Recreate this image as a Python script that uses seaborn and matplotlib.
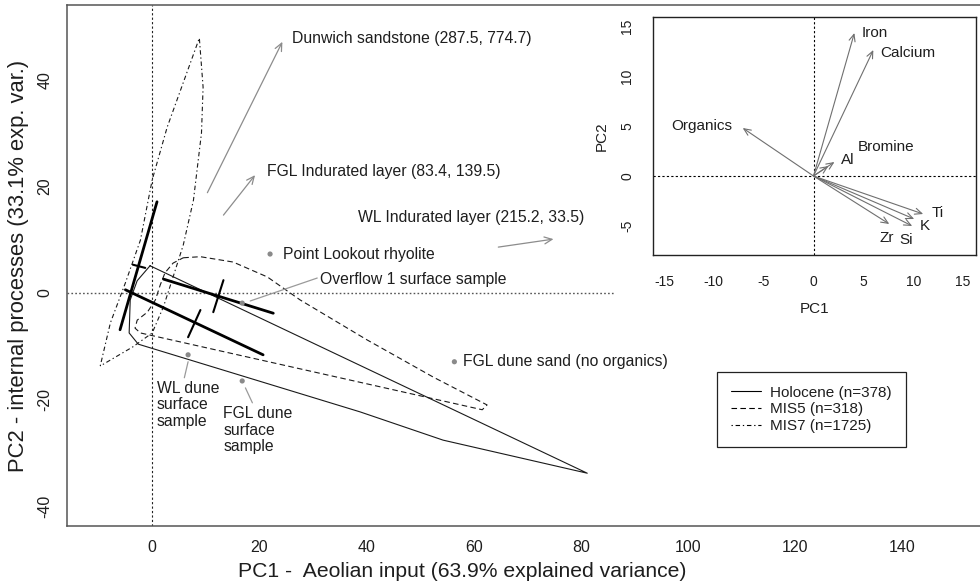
import numpy as np
import pandas as pd
import matplotlib
matplotlib.use("Agg")
import matplotlib.pyplot as plt
from matplotlib.lines import Line2D
import seaborn as sns

# ---------------- data ----------------
# convex hulls of the three groups (PC1, PC2)
holocene_pc1 = [-0.4, -2.8, -4.1, -4.3, -2.6, 38.8, 54.3, 81.2]
holocene_pc2 = [5.1, 2.3, -1.3, -7.5, -9.6, -22.3, -27.6, -33.8]

mis5_pc1 = [5.8, 9.0, 15.1, 21.5, 27.6, 40.1, 52.5, 62.5, 61.6,
            -2.2, -3.2, -2.8, -0.9, 0.6, 1.5, 2.4, 3.9]
mis5_pc2 = [6.6, 6.8, 5.8, 3.0, -1.3, -8.8, -15.8, -21.0, -21.9,
            -7.5, -6.6, -5.1, -3.6, -1.3, 1.5, 3.8, 5.6]

mis7_pc1 = [-9.7, -7.8, -5.0, -2.2, 0.0, 2.8, 8.8, 9.5, 9.2, 7.7,
            5.8, 3.9, 2.1, 0.0, -3.6]
mis7_pc2 = [-13.7, -5.6, 1.9, 9.9, 21.2, 31.1, 47.8, 38.6, 30.0, 17.4,
            9.0, 3.0, -2.6, -7.5, -10.1]

# group principal axes (major / minor), start and end points
axis_groups = ["MIS7", "Holocene", "MIS5"]
major_pc1 = [(0.9, -6.0), (-5.0, 20.7), (2.1, 22.6)]
major_pc2 = [(17.1, -6.9), (0.6, -11.6), (2.6, -3.8)]
minor_pc1 = [(-3.6, -1.3), (9.0, 6.7), (13.3, 11.4)]
minor_pc2 = [(5.3, 4.7), (-3.2, -8.3), (2.4, -3.6)]

# reference samples
sample_names = ["Point Lookout rhyolite", "Overflow 1 surface sample",
                "WL dune\nsurface\nsample", "FGL dune\nsurface\nsample",
                "FGL dune sand (no organics)"]
sample_pc1 = [22.0, 16.8, 6.7, 16.8, 56.4]
sample_pc2 = [7.3, -1.9, -11.6, -16.5, -12.9]
sample_label_pc1 = [24.4, 31.4, 0.9, 13.3, 58.0]
sample_label_pc2 = [7.3, 2.6, -21.0, -25.7, -12.9]
leader_from = {1: (18.3, -1.5), 2: (6.7, -12.9), 3: (17.4, -17.8)}
leader_to = {1: (30.8, 2.8), 2: (6.0, -15.9), 3: (18.7, -20.6)}

# off-scale samples (arrows pointing towards them)
offscale_names = ["Dunwich sandstone (287.5, 774.7)",
                  "FGL Indurated layer (83.4, 139.5)",
                  "WL Indurated layer (215.2, 33.5)"]
offscale_arrow_start = [(10.3, 18.8), (13.3, 14.6), (64.6, 8.6)]
offscale_arrow_end = [(24.3, 47.1), (19.2, 22.1), (74.9, 10.1)]
offscale_label_pos = [(26.1, 47.8), (21.5, 22.7), (38.5, 14.1)]

# loadings (inset)
loading_names = ["Iron", "Calcium", "Organics", "Bromine", "Al",
                 "Ti", "K", "Si", "Zr"]
loading_pc1 = [4.1, 6.0, -7.1, 2.1, 1.5, 11.0, 10.1, 9.9, 7.6]
loading_pc2 = [14.3, 12.6, 4.8, 1.4, 1.0, -3.8, -4.3, -5.0, -4.8]
loading_label_pc1 = [6.1, 9.5, -11.2, 7.3, 3.4, 12.5, 11.2, 9.3, 7.3]
loading_label_pc2 = [14.3, 12.3, 5.0, 2.9, 1.6, -3.7, -5.0, -6.4, -6.2]

main_xticks = [0, 20, 40, 60, 80, 100, 120, 140]
main_yticks = [-40, -20, 0, 20, 40]
inset_xticks = [-15, -10, -5, 0, 5, 10, 15]
inset_yticks = [-5, 0, 5, 10, 15]

legend_labels = ["Holocene (n=378)", "MIS5 (n=318)", "MIS7 (n=1725)"]

# ---------------- style ----------------
sns.set_style("white")
plt.rcParams["font.family"] = ["Liberation Sans", "DejaVu Sans"]
plt.rcParams["axes.unicode_minus"] = False
TXT = "#1e1e1e"
GREY = "#8a8a8a"
LS = {"Holocene": "-", "MIS5": (0, (5, 3)), "MIS7": (0, (1.2, 2.5, 4, 2.5))}

fig = plt.figure(figsize=(9.8, 5.87), dpi=100)
ax = fig.add_axes([67 / 980, 61 / 587, 913 / 980, 521 / 587])
ax.set_xlim(-15.9, 154.5)
ax.set_ylim(-43.7, 54.0)

# reference lines
ax.axvline(0, color="#222222", lw=0.8, ls=(0, (2, 2)), zorder=1)
sns.lineplot(x=[-15.9, 86.4], y=[0, 0], ax=ax, color="#555555", lw=1.0,
             linestyle=(0, (1.2, 1.6)), sort=False, estimator=None)

# hulls
for name, xs, ys in [("Holocene", holocene_pc1, holocene_pc2),
                     ("MIS5", mis5_pc1, mis5_pc2),
                     ("MIS7", mis7_pc1, mis7_pc2)]:
    xs_c = list(xs) + [xs[0]]
    ys_c = list(ys) + [ys[0]]
    sns.lineplot(x=xs_c, y=ys_c, ax=ax, color="#1a1a1a", lw=0.8,
                 linestyle=LS[name], sort=False, estimator=None)

# group principal axes
for i in range(len(axis_groups)):
    sns.lineplot(x=list(major_pc1[i]), y=list(major_pc2[i]), ax=ax,
                 color="black", lw=2.0, sort=False, estimator=None)
    sns.lineplot(x=list(minor_pc1[i]), y=list(minor_pc2[i]), ax=ax,
                 color="black", lw=1.5, sort=False, estimator=None)

# sample points
pts = pd.DataFrame({"pc1": sample_pc1, "pc2": sample_pc2})
sns.scatterplot(data=pts, x="pc1", y="pc2", ax=ax, color=GREY, s=14,
                edgecolor="none", zorder=5)
for i, name in enumerate(sample_names):
    ax.text(sample_label_pc1[i], sample_label_pc2[i], name, ha="left",
            va="center", fontsize=11.3, color=TXT, linespacing=1.15)
for k in leader_from:
    (x0, y0), (x1, y1) = leader_from[k], leader_to[k]
    ax.plot([x0, x1], [y0, y1], color="#9a9a9a", lw=0.9)

# off-scale arrows
for name, st, en, lp in zip(offscale_names, offscale_arrow_start,
                            offscale_arrow_end, offscale_label_pos):
    ax.annotate("", xy=en, xytext=st,
                arrowprops=dict(arrowstyle="->,head_length=0.55,head_width=0.25",
                                color="#8c8c8c", lw=0.9, shrinkA=0, shrinkB=0,
                                mutation_scale=10))
    ax.text(lp[0], lp[1], name, ha="left", va="center", fontsize=11.3,
            color=TXT)

# axes styling
ax.set_xticks(main_xticks)
ax.set_yticks(main_yticks)
for s in ["left", "bottom", "top"]:
    ax.spines[s].set_color("#555555")
    ax.spines[s].set_linewidth(1.1)
ax.spines["right"].set_visible(False)
ax.tick_params(axis="both", direction="out", length=7, width=1.0,
               color="#555555", labelsize=11.5, labelcolor=TXT, pad=3.3)
ax.tick_params(axis="y", labelrotation=90)
for t in ax.get_yticklabels():
    t.set_va("center")
ax.set_xlabel("PC1 -  Aeolian input (63.9% explained variance)",
              fontsize=15.2, color=TXT)
ax.xaxis.set_label_coords((462 - 67) / 913, (526 - 562) / 521)
ax.set_ylabel("PC2 - internal processes (33.1% exp. var.)", fontsize=15.8,
              color=TXT)
ax.yaxis.set_label_coords((29 - 67) / 913, 0.5)

# legend
handles = [Line2D([], [], color="black", lw=0.8, linestyle=LS[g])
           for g in ["Holocene", "MIS5", "MIS7"]]
leg = fig.legend(handles, legend_labels, loc="upper left",
                 bbox_to_anchor=(717 / 980, 1 - 372 / 587), fontsize=11,
                 frameon=True, fancybox=False, framealpha=1, borderpad=0.9,
                 handlelength=2.0, handletextpad=0.6, labelspacing=0.18,
                 borderaxespad=0)
leg.get_frame().set_edgecolor("#222222")
leg.get_frame().set_linewidth(0.9)
for t in leg.get_texts():
    t.set_color(TXT)

# ---------------- inset: loadings ----------------
axi = fig.add_axes([653 / 980, 1 - 255 / 587, 323 / 980, 238 / 587])
axi.set_xlim(-16.1, 16.3)
axi.set_ylim(-7.9, 15.9)
axi.axvline(0, color="black", lw=0.8, ls=(0, (2, 2)))
axi.axhline(0, color="black", lw=0.8, ls=(0, (2, 2)))
for i, name in enumerate(loading_names):
    axi.annotate("", xy=(loading_pc1[i], loading_pc2[i]), xytext=(0, 0),
                 arrowprops=dict(arrowstyle="->,head_length=0.5,head_width=0.22",
                                 color="#6f6f6f", lw=0.8, shrinkA=0, shrinkB=0,
                                 mutation_scale=10))
    axi.text(loading_label_pc1[i], loading_label_pc2[i], name, ha="center",
             va="center", fontsize=11, color=TXT)
axi.set_xticks(inset_xticks)
axi.set_yticks(inset_yticks)
for s in axi.spines.values():
    s.set_color("#222222")
    s.set_linewidth(1.0)
axi.tick_params(axis="both", direction="out", length=7, width=1.0,
                color="#444444", labelsize=10, labelcolor=TXT, pad=7.5)
axi.tick_params(axis="y", labelrotation=90, length=6)
for t in axi.get_yticklabels():
    t.set_va("center")
axi.set_xlabel("PC1", fontsize=11, color=TXT)
axi.xaxis.set_label_coords(0.5, (255 - 302) / 238)
axi.set_ylabel("PC2", fontsize=11, color=TXT)
axi.yaxis.set_label_coords((609 - 653) / 323, 0.5)

fig.savefig("out.png", dpi=100)
